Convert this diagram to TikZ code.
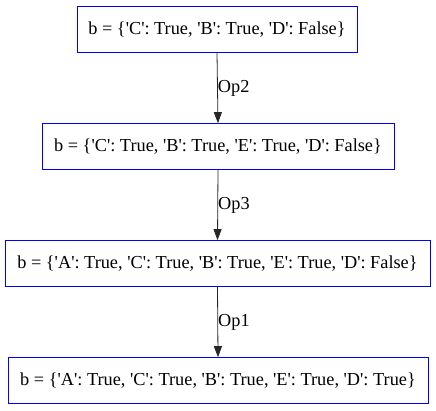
\documentclass[tikz,border=0pt]{standalone}
\usepackage{fontspec}
\setmainfont{Liberation Serif}[Ligatures=TeXOff]
\usetikzlibrary{arrows.meta,positioning}
\definecolor{boxblue}{RGB}{0,0,255}
\tikzset{
  state/.style={draw=boxblue, semithick, rectangle, inner sep=0pt, minimum height=46pt, font=\fontsize{18.3}{21}\selectfont},
  trans/.style={-{Triangle[length=11pt, width=8pt]}, black!85, thick},
  oplab/.style={font=\fontsize{18.3}{21}\selectfont, text=black, right=-1pt, inner sep=1pt},
}
\begin{document}
\begin{tikzpicture}[x=1pt, y=-1pt]
\useasboundingbox (0,0) rectangle (436,411);
%---- states
\node[state, minimum width=280pt] (s1) at (217,29.5) {b = \{'C': True, 'B': True, 'D': False\}};
\node[state, minimum width=352pt] (s2) at (218,146.5) {b = \{'C': True, 'B': True, 'E': True, 'D': False\}};
\node[state, minimum width=425pt] (s3) at (217.5,263.5) {b = \{'A': True, 'C': True, 'B': True, 'E': True, 'D': False\}};
\node[state, minimum width=420pt] (s4) at (218,380.5) {b = \{'A': True, 'C': True, 'B': True, 'E': True, 'D': True\}};
%---- transitions
\draw[trans] (s1.south) -- (s2.north) node[oplab, pos=0.5] {Op2};
\draw[trans] (s2.south) -- (s3.north) node[oplab, pos=0.5] {Op3};
\draw[trans] (s3.south) -- (s4.north) node[oplab, pos=0.5] {Op1};
\end{tikzpicture}
\end{document}
